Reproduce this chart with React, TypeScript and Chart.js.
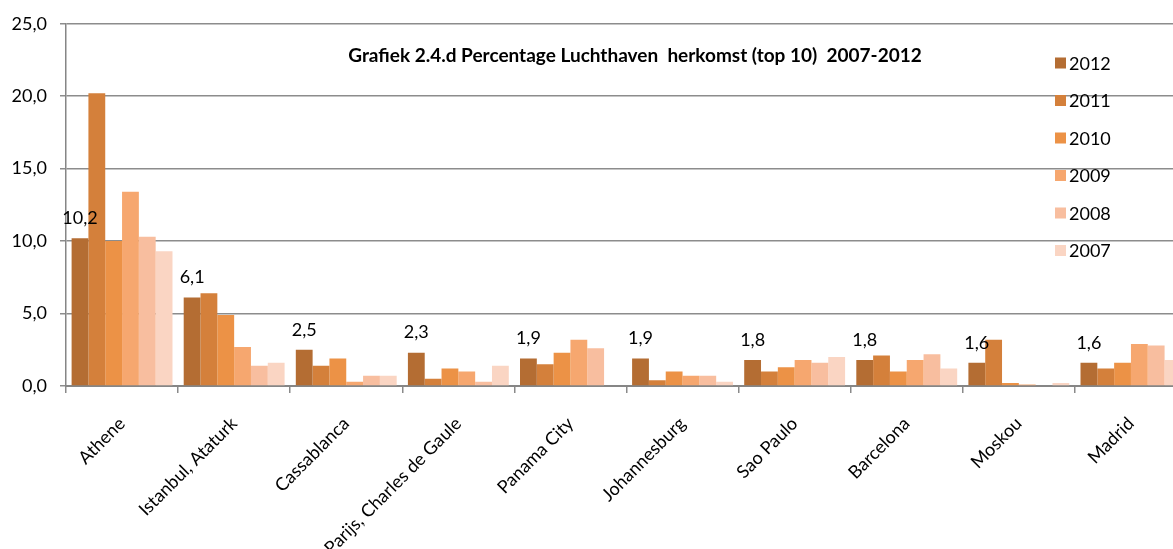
import React, { useEffect, useRef } from "react";
import { Chart, registerables } from "chart.js";

Chart.register(...registerables);

const categories = [
  "Athene",
  "Istanbul, Ataturk",
  "Cassablanca",
  "Parijs, Charles de Gaule",
  "Panama City",
  "Johannesburg",
  "Sao Paulo",
  "Barcelona",
  "Moskou",
  "Madrid",
];

const years = ["2012", "2011", "2010", "2009", "2008", "2007"];

const values2012 = [10.2, 6.1, 2.5, 2.3, 1.9, 1.9, 1.8, 1.8, 1.6, 1.6];
const values2011 = [20.2, 6.4, 1.4, 0.5, 1.5, 0.4, 1.0, 2.1, 3.2, 1.2];
const values2010 = [10.0, 4.9, 1.9, 1.2, 2.3, 1.0, 1.3, 1.0, 0.2, 1.6];
const values2009 = [13.4, 2.7, 0.3, 1.0, 3.2, 0.7, 1.8, 1.8, 0.1, 2.9];
const values2008 = [10.3, 1.4, 0.7, 0.3, 2.6, 0.7, 1.6, 2.2, 0.0, 2.8];
const values2007 = [9.3, 1.6, 0.7, 1.4, 0.0, 0.3, 2.0, 1.2, 0.2, 1.8];

const seriesValues = [values2012, values2011, values2010, values2009, values2008, values2007];
const seriesColors = ["#B46D33", "#D4803B", "#EC9246", "#F6A76F", "#F8BE9F", "#FAD5C3"];

const titleText = "Grafiek 2.4.d Percentage Luchthaven  herkomst (top 10)  2007-2012";
const yMin = 0;
const yMax = 25;
const yStep = 5;

const FONT = "Lato, 'Open Sans', sans-serif";
const fmt = (v: number) => v.toFixed(1).replace(".", ",");

const overlayPlugin = {
  id: "overlay",
  afterDatasetsDraw(chart: any) {
    const ctx = chart.ctx;
    ctx.save();
    // data labels for the first series
    const meta = chart.getDatasetMeta(0);
    ctx.fillStyle = "#000";
    ctx.font = `18px ${FONT}`;
    ctx.textAlign = "center";
    ctx.textBaseline = "middle";
    meta.data.forEach((bar: any, i: number) => {
      const v = chart.data.datasets[0].data[i];
      ctx.fillText(fmt(v), bar.x, bar.y - 20);
    });
    // title
    ctx.font = `bold 19px ${FONT}`;
    ctx.fillText(titleText, 635, 56);
    // legend
    ctx.textAlign = "left";
    ctx.font = `18px ${FONT}`;
    chart.data.datasets.forEach((ds: any, i: number) => {
      const cy = 63 + i * 37.5;
      ctx.fillStyle = ds.backgroundColor;
      ctx.fillRect(1055, cy - 5.5, 11, 11);
      ctx.fillStyle = "#000";
      ctx.fillText(ds.label, 1069, cy + 1);
    });
    ctx.restore();
  },
};

export default function App() {
  const canvasRef = useRef<HTMLCanvasElement | null>(null);

  useEffect(() => {
    document.documentElement.style.overflow = "hidden";
    document.body.style.overflow = "hidden";
    const canvas = canvasRef.current;
    if (!canvas) return;
    const chart = new Chart(canvas, {
      type: "bar",
      data: {
        labels: categories,
        datasets: years.map((y, i) => ({
          label: y,
          data: seriesValues[i],
          backgroundColor: seriesColors[i],
          borderWidth: 0,
          categoryPercentage: 0.9,
          barPercentage: 1.0,
        })),
      },
      options: {
        responsive: false,
        animation: false,
        layout: { padding: { left: 0, right: 3, top: 20, bottom: 0 } },
        plugins: {
          legend: { display: false },
          title: { display: false },
          tooltip: { enabled: false },
        },
        scales: {
          x: {
            afterFit: (s: any) => {
              s.height = 163;
            },
            grid: {
              display: true,
              drawOnChartArea: false,
              drawTicks: true,
              tickLength: 7,
              color: "#8a8a8a",
              lineWidth: 1.5,
              offset: true,
            },
            border: { display: true, color: "#868686", width: 2 },
            ticks: {
              font: { family: FONT, size: 18 },
              color: "#000",
              minRotation: 45,
              maxRotation: 45,
              autoSkip: false,
              padding: 20,
            },
          },
          y: {
            min: yMin,
            max: yMax,
            afterFit: (s: any) => {
              s.width = 66;
            },
            grid: {
              color: "#8c8c8c",
              lineWidth: 1.5,
              tickLength: 6,
            },
            border: { display: true, color: "#868686", width: 1.5 },
            ticks: {
              stepSize: yStep,
              font: { family: FONT, size: 18 },
              color: "#000",
              padding: 13,
              callback: (v: any) => fmt(Number(v)),
            },
          },
        },
      },
      plugins: [overlayPlugin],
    });
    return () => chart.destroy();
  }, []);

  return (
    <div style={{ position: "absolute", left: 0, top: 0, width: 1190, height: 549, background: "#fff" }}>
      <canvas ref={canvasRef} width={1190} height={549} style={{ width: 1190, height: 549, display: "block" }} />
    </div>
  );
}
